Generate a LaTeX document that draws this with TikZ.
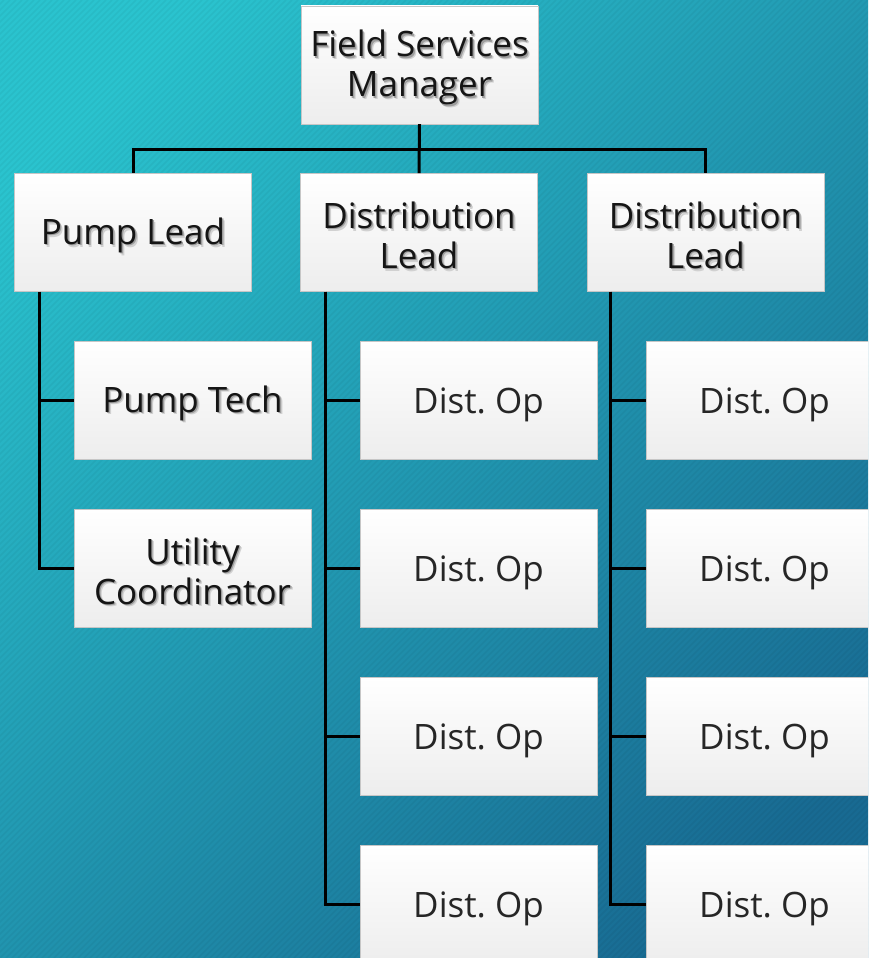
\documentclass[tikz,border=0pt]{standalone}
\usepackage{fontspec}
\setmainfont{Open Sans}
\usetikzlibrary{calc}
\definecolor{bgA}{HTML}{2AC3CE}
\definecolor{bgB}{HTML}{25ADCB}
\definecolor{bgC}{HTML}{186A92}
\definecolor{shA}{gray}{0.82}
\definecolor{shB}{gray}{0.62}
\definecolor{txt}{HTML}{151515}
\definecolor{optxt}{HTML}{262626}
\newcommand\shd[1]{\makebox[0pt][l]{\hspace{2.6pt}\raisebox{-2.6pt}{\textcolor{shA}{#1}}}\makebox[0pt][l]{\hspace{1.4pt}\raisebox{-1.4pt}{\textcolor{shB}{#1}}}#1}
\newcommand\tallstrut{\rule{0pt}{35pt}}
\tikzset{
  orgbox/.style={rectangle, minimum width=237pt, minimum height=118pt, inner sep=0pt,
    draw=gray!45, line width=0.8pt, top color=white, middle color=white, bottom color=gray!14,
    align=center, font=\fontsize{35}{40}\selectfont, text=txt},
  opbox/.style={orgbox, text=optxt},
  link/.style={draw=black, line width=3pt},
  stripe/.style={line width=1.6pt, black, opacity=0.04}
}
\begin{document}
\begin{tikzpicture}[x=1pt,y=-1pt]
\useasboundingbox (0,0) rectangle (868,958);
\clip (0,0) rectangle (868,958);
\shade[top color=bgA, middle color=bgB, bottom color=bgC, shading angle=45] (-50,-50) rectangle (918,1008);
\foreach \i in {-960,-954,...,870} \draw[stripe] (\i,958) -- ++(958,-958);

% nodes
\node[orgbox] (mgr) at (419.5,65) {\tallstrut\shd{Field Services}\\\shd{Manager}};
\node[orgbox] (pl)  at (133,232.5) {\tallstrut\shd{Pump Lead}};
\node[orgbox] (dl1) at (419,232.5) {\tallstrut\shd{Distribution}\\\shd{Lead}};
\node[orgbox] (dl2) at (705.5,232.5) {\tallstrut\shd{Distribution}\\\shd{Lead}};
\node[orgbox] (pt) at (192.5,400) {\tallstrut\shd{Pump Tech}};
\node[orgbox] (uc) at (192.5,568) {\tallstrut\shd{Utility}\\\shd{Coordinator}};
\foreach \n/\y in {1/400,2/568,3/736,4/904} {
  \node[opbox] (a\n) at (478.5,\y) {\tallstrut Dist.\ Op};
  \node[opbox] (b\n) at (764.5,\y) {\tallstrut Dist.\ Op};
}

% connectors
\draw[link] (mgr.south) -- (dl1.north);
\draw[link] (mgr.south) -- ++(0,25) -| (pl.north);
\draw[link] (mgr.south) -- ++(0,25) -| (dl2.north);
\draw[link] ($(pl.south west)+(25,0)$) |- (pt.west);
\draw[link] ($(pl.south west)+(25,0)$) |- (uc.west);
\foreach \n in {1,2,3,4} {
  \draw[link] ($(dl1.south west)+(25,0)$) |- (a\n.west);
  \draw[link] ($(dl2.south west)+(24,0)$) |- (b\n.west);
}
\end{tikzpicture}
\end{document}
